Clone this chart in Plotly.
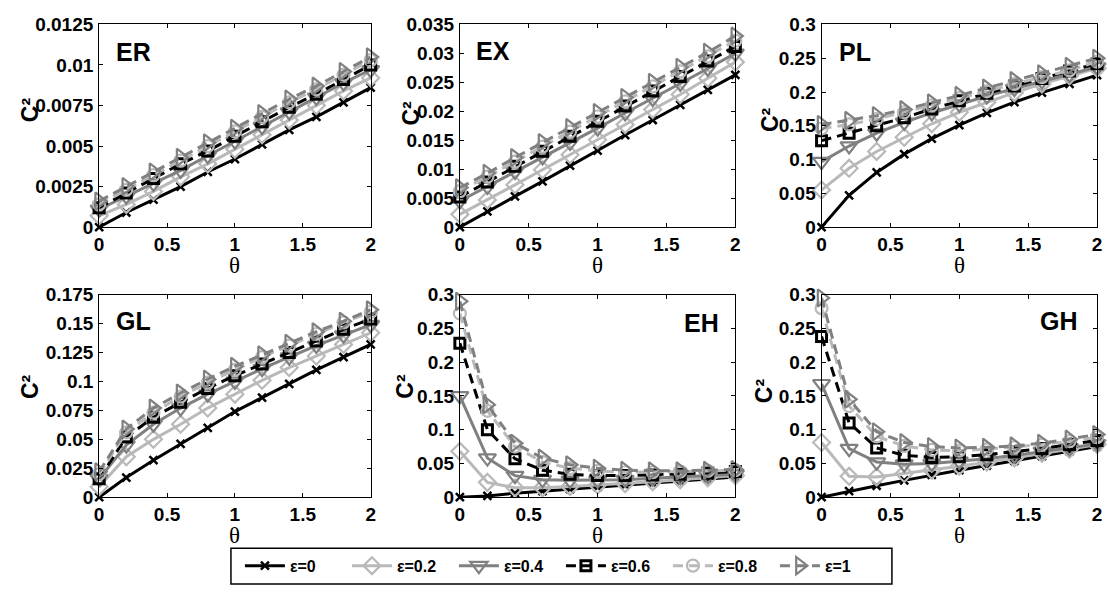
import plotly.graph_objects as go
from plotly.subplots import make_subplots

W, H = 1108, 597

theta = [0, 0.2, 0.4, 0.6, 0.8, 1.0, 1.2, 1.4, 1.6, 1.8, 2.0]
eps_labels = ["ε=0", "ε=0.2", "ε=0.4", "ε=0.6", "ε=0.8", "ε=1"]
panel_names = ["ER", "EX", "PL", "GL", "EH", "GH"]

# C^2 versus theta, one row per epsilon value (0, 0.2, 0.4, 0.6, 0.8, 1)
er = [
    [0, 0.0009, 0.0017, 0.0025, 0.0034, 0.0042, 0.0051, 0.0060, 0.0068, 0.0077, 0.0086],
    [0.0007, 0.0014, 0.0022, 0.0031, 0.0039, 0.0048, 0.0057, 0.0066, 0.0075, 0.0084, 0.0092],
    [0.0011, 0.0019, 0.0027, 0.0035, 0.0044, 0.0053, 0.0062, 0.0071, 0.0080, 0.0089, 0.0097],
    [0.0012, 0.0021, 0.0030, 0.0039, 0.0047, 0.0056, 0.0065, 0.0074, 0.0082, 0.0091, 0.0100],
    [0.0014, 0.0023, 0.0032, 0.0041, 0.0050, 0.0059, 0.0068, 0.0077, 0.0085, 0.0094, 0.0103],
    [0.0016, 0.0025, 0.0034, 0.0043, 0.0052, 0.0061, 0.0070, 0.0079, 0.0087, 0.0096, 0.0105],
]
ex = [
    [0, 0.0027, 0.0053, 0.0079, 0.0106, 0.0132, 0.0159, 0.0185, 0.0211, 0.0237, 0.0263],
    [0.0022, 0.0047, 0.0073, 0.0099, 0.0125, 0.0151, 0.0177, 0.0203, 0.0229, 0.0257, 0.0285],
    [0.0045, 0.0070, 0.0096, 0.0121, 0.0146, 0.0171, 0.0197, 0.0222, 0.0248, 0.0274, 0.0300],
    [0.0052, 0.0078, 0.0105, 0.0131, 0.0157, 0.0183, 0.0209, 0.0235, 0.0260, 0.0287, 0.0312],
    [0.0062, 0.0087, 0.0113, 0.0139, 0.0165, 0.0191, 0.0217, 0.0243, 0.0269, 0.0295, 0.0322],
    [0.0068, 0.0093, 0.0120, 0.0146, 0.0172, 0.0198, 0.0224, 0.0250, 0.0276, 0.0302, 0.0330],
]
pl = [
    [0, 0.047, 0.081, 0.108, 0.131, 0.151, 0.169, 0.185, 0.199, 0.212, 0.225],
    [0.055, 0.087, 0.112, 0.133, 0.153, 0.170, 0.185, 0.199, 0.212, 0.224, 0.235],
    [0.097, 0.120, 0.139, 0.155, 0.169, 0.182, 0.194, 0.205, 0.216, 0.226, 0.237],
    [0.128, 0.139, 0.150, 0.162, 0.175, 0.187, 0.198, 0.209, 0.220, 0.231, 0.242],
    [0.146, 0.152, 0.160, 0.170, 0.180, 0.191, 0.201, 0.212, 0.222, 0.232, 0.245],
    [0.152, 0.158, 0.165, 0.174, 0.184, 0.195, 0.206, 0.217, 0.227, 0.238, 0.250],
]
gl = [
    [0, 0.017, 0.032, 0.046, 0.060, 0.074, 0.086, 0.098, 0.110, 0.121, 0.132],
    [0.009, 0.035, 0.050, 0.063, 0.077, 0.089, 0.101, 0.112, 0.122, 0.132, 0.142],
    [0.016, 0.045, 0.063, 0.077, 0.089, 0.100, 0.111, 0.121, 0.131, 0.140, 0.149],
    [0.016, 0.052, 0.069, 0.082, 0.094, 0.105, 0.115, 0.125, 0.135, 0.145, 0.154],
    [0.020, 0.056, 0.073, 0.087, 0.099, 0.110, 0.121, 0.131, 0.141, 0.151, 0.160],
    [0.022, 0.059, 0.077, 0.090, 0.102, 0.113, 0.123, 0.133, 0.143, 0.152, 0.162],
]
eh = [
    [0, 0.002, 0.006, 0.009, 0.012, 0.015, 0.018, 0.021, 0.024, 0.027, 0.030],
    [0.068, 0.022, 0.014, 0.014, 0.016, 0.018, 0.020, 0.023, 0.026, 0.029, 0.032],
    [0.150, 0.058, 0.032, 0.026, 0.025, 0.025, 0.026, 0.028, 0.030, 0.032, 0.034],
    [0.228, 0.100, 0.057, 0.040, 0.034, 0.032, 0.032, 0.033, 0.034, 0.036, 0.038],
    [0.272, 0.128, 0.075, 0.052, 0.043, 0.039, 0.037, 0.037, 0.038, 0.039, 0.040],
    [0.290, 0.137, 0.080, 0.058, 0.048, 0.043, 0.040, 0.039, 0.039, 0.040, 0.041],
]
gh = [
    [0, 0.009, 0.017, 0.025, 0.033, 0.040, 0.047, 0.054, 0.061, 0.068, 0.075],
    [0.081, 0.031, 0.030, 0.035, 0.040, 0.046, 0.052, 0.058, 0.065, 0.071, 0.078],
    [0.168, 0.072, 0.052, 0.049, 0.050, 0.053, 0.057, 0.062, 0.068, 0.073, 0.079],
    [0.238, 0.110, 0.073, 0.062, 0.059, 0.060, 0.063, 0.067, 0.072, 0.078, 0.084],
    [0.280, 0.135, 0.090, 0.076, 0.070, 0.069, 0.071, 0.074, 0.078, 0.083, 0.089],
    [0.295, 0.145, 0.097, 0.081, 0.075, 0.073, 0.074, 0.076, 0.080, 0.086, 0.093],
]
panels = [er, ex, pl, gl, eh, gh]

# y-axis ticks per panel
y_ticks = [
    [0, 0.0025, 0.005, 0.0075, 0.01, 0.0125],
    [0, 0.005, 0.01, 0.015, 0.02, 0.025, 0.03, 0.035],
    [0, 0.05, 0.1, 0.15, 0.2, 0.25, 0.3],
    [0, 0.025, 0.05, 0.075, 0.1, 0.125, 0.15, 0.175],
    [0, 0.05, 0.1, 0.15, 0.2, 0.25, 0.3],
    [0, 0.05, 0.1, 0.15, 0.2, 0.25, 0.3],
]
y_ticktext = [
    ["0", "0.0025", "0.005", "0.0075", "0.01", "0.0125"],
    ["0", "0.005", "0.01", "0.015", "0.02", "0.025", "0.03", "0.035"],
    ["0", "0.05", "0.1", "0.15", "0.2", "0.25", "0.3"],
    ["0", "0.025", "0.05", "0.075", "0.1", "0.125", "0.15", "0.175"],
    ["0", "0.05", "0.1", "0.15", "0.2", "0.25", "0.3"],
    ["0", "0.05", "0.1", "0.15", "0.2", "0.25", "0.3"],
]
x_ticks = [0, 0.5, 1, 1.5, 2]
x_ticktext = ["0", "0.5", "1", "1.5", "2"]

# series styling
BLACK, LIGHT, MID = "#000000", "#b9b9b9", "#808080"
DASH = "10px,6px"
styles = [
    dict(color=BLACK, dash="solid", symbol="x-thin-open", size=8, lw=2.5),
    dict(color=LIGHT, dash="solid", symbol="diamond-open", size=13, lw=2.2),
    dict(color=MID, dash="solid", symbol="triangle-down-open", size=15, lw=2.2),
    dict(color=BLACK, dash=DASH, symbol="square-open", size=10, lw=3),
    dict(color=LIGHT, dash=DASH, symbol="circle-open", size=12, lw=2.2),
    dict(color=MID, dash=DASH, symbol="triangle-right-open", size=15, lw=2.2),
]


def px(x):
    return x / W


def py(y):
    return 1 - y / H


# plot-area pixel boxes: (left, right, top, bottom)
boxes = [
    (95, 369, 15, 225), (459, 737, 15, 225), (824, 1102, 15, 225),
    (95, 369, 295, 505), (459, 737, 295, 505), (824, 1102, 295, 505),
]

fig = make_subplots(rows=2, cols=3)

for k, data in enumerate(panels):
    r, c = k // 3 + 1, k % 3 + 1
    for j, ys in enumerate(data):
        st = styles[j]
        fig.add_trace(
            go.Scatter(
                x=theta, y=ys, mode="lines+markers", name=eps_labels[j],
                legendgroup=eps_labels[j], showlegend=(k == 0),
                cliponaxis=False,
                line=dict(color=st["color"], width=3, dash=st["dash"]),
                marker=dict(symbol=st["symbol"], size=st["size"], color=st["color"],
                            line=dict(color=st["color"], width=st["lw"])),
            ),
            row=r, col=c,
        )

tickfont = dict(family="Liberation Sans", size=19, color="black", weight="bold")
for k in range(6):
    r, c = k // 3 + 1, k % 3 + 1
    L, R, T, B = boxes[k]
    fig.update_xaxes(
        domain=[px(L), px(R)], range=[0, 2], tickvals=x_ticks, ticktext=x_ticktext,
        showgrid=False, zeroline=False, showline=True, linecolor="black", linewidth=1,
        mirror="ticks", ticks="inside", ticklen=4, tickcolor="black",
        tickfont=tickfont, ticklabelstandoff=0, row=r, col=c,
    )
    fig.update_yaxes(
        domain=[py(B), py(T)], range=[0, y_ticks[k][-1]], tickvals=y_ticks[k],
        ticktext=y_ticktext[k], showgrid=False, zeroline=False, showline=True,
        linecolor="black", linewidth=1, mirror="ticks", ticks="inside", ticklen=4,
        tickcolor="black", tickfont=tickfont, ticklabelstandoff=1, row=r, col=c,
    )

annotations = []
# panel names
name_pos = [(110, 44, "left"), (473, 42, "left"), (840, 44, "left"),
            (110, 322, "left"), (723, 324, "right"), (1085, 322, "right")]
for k, (x, y, anc) in enumerate(name_pos):
    annotations.append(dict(
        text=panel_names[k], x=px(x), y=py(y), xref="paper", yref="paper",
        xanchor=anc, yanchor="middle", showarrow=False,
        font=dict(family="Liberation Sans", size=25, color="black", weight="bold"),
    ))
# y-axis titles
c2_pos = [(26, 103), (410, 107), (772, 114), (26, 390), (404, 390), (766, 395)]
for x, y in c2_pos:
    annotations.append(dict(
        text="C²", x=px(x), y=py(y), xref="paper", yref="paper",
        xanchor="center", yanchor="middle", showarrow=False, textangle=-90,
        font=dict(family="Liberation Sans", size=23, color="black", weight="bold"),
    ))
# x-axis titles
for L, R, T, B in boxes:
    annotations.append(dict(
        text="θ", x=px((L + R) / 2), y=py(B + 40), xref="paper", yref="paper",
        xanchor="center", yanchor="middle", showarrow=False,
        font=dict(family="Liberation Serif", size=23, color="black"),
    ))

fig.update_layout(
    width=W, height=H, margin=dict(l=0, r=0, t=0, b=0),
    paper_bgcolor="white", plot_bgcolor="white",
    annotations=annotations,
    shapes=[dict(type="rect", xref="paper", yref="paper",
                 x0=px(228), x1=px(895), y0=py(595), y1=py(558),
                 line=dict(color="black", width=1.5), fillcolor="rgba(0,0,0,0)")],
    showlegend=True,
    legend=dict(
        orientation="h", x=px(561), y=py(576), xanchor="center", yanchor="middle",
        borderwidth=0, bgcolor="rgba(0,0,0,0)",
        font=dict(family="Liberation Sans", size=16, color="black", weight="bold"),
        itemwidth=40, entrywidth=52, tracegroupgap=0,
    ),
)

fig.write_html("out.html")
